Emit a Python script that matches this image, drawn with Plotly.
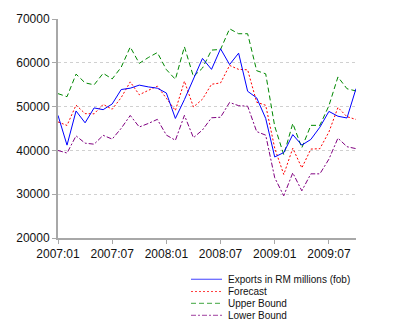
import plotly.graph_objects as go

# ---------------- data ----------------
months = [f"{y}:{m:02d}" for y in (2007, 2008, 2009) for m in range(1, 13)][:34]

exports = [48000, 41200, 49000, 46300, 49700, 49300, 50600, 53900, 54200, 54900,
           54500, 54200, 53100, 47300, 51600, 56100, 61000, 58500, 63200, 59600,
           62200, 53500, 52000, 47300, 38500, 39500, 43600, 41200, 42500, 45300,
           48900, 47800, 47400, 54100]

forecast = [46500, 45700, 50350, 48400, 48350, 50500, 49400, 52070, 55640, 52700,
            53700, 54680, 51900, 49100, 55800, 49900, 51700, 55100, 55400, 59400,
            58500, 58400, 51000, 50300, 40500, 34500, 40500, 36000, 40300, 40400,
            44200, 49800, 47700, 47060]

upper = [52960, 52260, 57420, 55420, 54970, 57600, 56310, 59000, 63600, 59880,
         61200, 62340, 58450, 56230, 63650, 56850, 58790, 62900, 63050, 67760,
         66640, 66640, 58200, 57480, 45500, 39000, 46150, 40600, 45720, 45720,
         50200, 56770, 54080, 53570]

lower = [39980, 39400, 43320, 41650, 41420, 43440, 42580, 45040, 47980, 45340,
         46150, 47080, 43500, 42300, 48000, 42900, 44670, 47450, 47570, 50950,
         50210, 50100, 44300, 43480, 33750, 29640, 34870, 30770, 34650, 34650,
         38000, 42800, 40850, 40400]

x_ticks = ["2007:01", "2007:07", "2008:01", "2008:07", "2009:01", "2009:07"]
y_ticks = [20000, 30000, 40000, 50000, 60000, 70000]

series_names = ["Exports in RM millions (fob)", "Forecast", "Upper Bound", "Lower Bound"]
series_data = [exports, forecast, upper, lower]
series_colors = ["#0000ff", "#ff0000", "#008800", "#800080"]
series_dash = ["solid", "2px,2px", "5px,3px", "5px,2px,2px,2px"]

# ---------------- figure ----------------
FONT = "Liberation Sans, Arial, sans-serif"
W, H = 400, 327
L, R, T, B = 58, 44, 15, 89
PW, PH = W - L - R, H - T - B

fig = go.Figure()
# draw order: bounds first, then forecast, exports on top
for idx in [2, 3, 1, 0]:
    fig.add_trace(go.Scatter(
        x=months, y=series_data[idx], mode="lines", name=series_names[idx],
        line=dict(color=series_colors[idx], width=1, dash=series_dash[idx]),
        showlegend=False, hoverinfo="skip"))

# custom compact legend (line samples + text)
def px_x(px):
    return (px - L) / PW

def px_y(py):
    return (H - B - py) / PH

legend_rows = [280, 292.5, 304.5, 316.7]
for name, color, dash, ry in zip(series_names, series_colors, series_dash, legend_rows):
    fig.add_shape(type="line", xref="paper", yref="paper",
                  x0=px_x(191), x1=px_x(222), y0=px_y(ry), y1=px_y(ry),
                  line=dict(color=color, width=1, dash=dash), opacity=0.75)
    fig.add_annotation(xref="paper", yref="paper", x=px_x(226), y=px_y(ry),
                       xanchor="left", yanchor="middle", showarrow=False,
                       text=name, font=dict(family=FONT, size=10, color="#111111"))

fig.update_layout(
    width=W, height=H,
    margin=dict(l=L, r=R, t=T, b=B, pad=0),
    paper_bgcolor="white", plot_bgcolor="white",
    showlegend=False,
    font=dict(family=FONT, size=12, color="#111111"),
    xaxis=dict(
        type="category", range=[0, len(months) - 1],
        tickmode="array", tickvals=x_ticks, ticktext=x_ticks,
        showgrid=False, zeroline=False,
        showline=True, linecolor="#a8a8a8", linewidth=2,
        ticks="outside", ticklen=4, tickcolor="#a8a8a8", tickwidth=1,
        tickfont=dict(family=FONT, size=12, color="#111111"),
        tickangle=0,
    ),
    yaxis=dict(
        range=[20000, 70000],
        tickmode="array", tickvals=y_ticks, tickformat="d",
        showgrid=True, gridcolor="#d0d0d0", griddash="3px,3px", gridwidth=1,
        zeroline=False,
        showline=True, linecolor="#a8a8a8", linewidth=2,
        ticks="outside", ticklen=4, tickcolor="#a8a8a8", tickwidth=1,
        tickfont=dict(family=FONT, size=12, color="#111111"),
    ),
)

fig.write_html("out.html")
